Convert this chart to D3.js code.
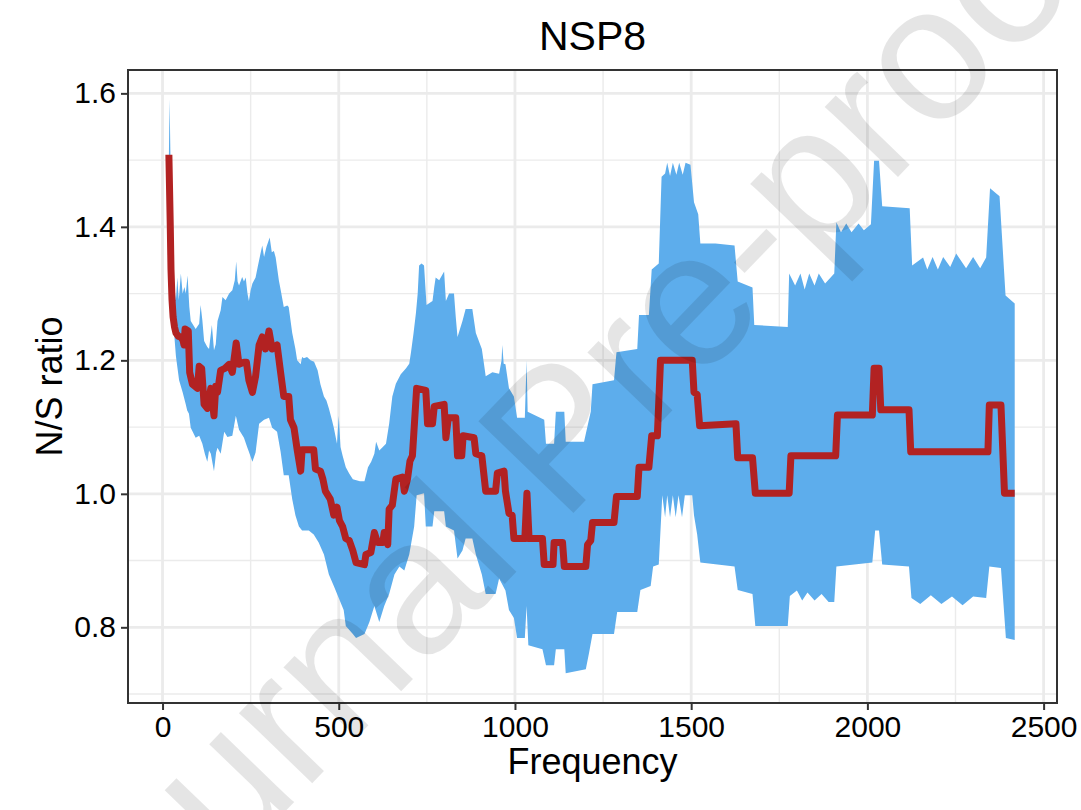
<!DOCTYPE html>
<html>
<head>
<meta charset="utf-8">
<script src="https://cdn.jsdelivr.net/npm/d3@7"></script>
<style>
  html, body { margin: 0; padding: 0; background: #fff; }
  text { font-family: "Liberation Sans", Arial, Helvetica, sans-serif; }
</style>
</head>
<body>
<div id="chart"></div>
<script>
// median N/S ratio (red line), [frequency, ratio]
const medianLine = [
  [18,1.508],[22,1.40],[24,1.336],[27,1.29],[30,1.265],[34,1.25],[38,1.241],[45,1.236],[52,1.235],[58,1.230],
  [61,1.223],[64,1.247],[73,1.244],[77,1.182],[85,1.164],[99,1.158],[104,1.191],[111,1.188],[118,1.134],[127,1.128],
  [137,1.158],[146,1.117],[151,1.161],[156,1.152],[165,1.185],[177,1.188],[189,1.194],[198,1.182],[209,1.226],[217,1.194],
  [231,1.197],[238,1.197],[245,1.170],[255,1.152],[264,1.176],[274,1.223],[283,1.235],[292,1.217],[302,1.244],[311,1.217],
  [325,1.223],[335,1.182],[344,1.146],[358,1.146],[363,1.111],[373,1.099],[382,1.066],[392,1.034],[396,1.066],[429,1.066],
  [434,1.037],[448,1.034],[455,1.022],[462,1.004],[476,0.992],[486,0.968],[495,0.980],[502,0.960],[511,0.951],[520,0.933],
  [530,0.930],[540,0.915],[549,0.897],[573,0.894],[577,0.909],[591,0.912],[601,0.942],[610,0.927],[625,0.927],[629,0.942],
  [639,0.924],[643,0.977],[652,0.983],[662,1.022],[681,1.025],[686,1.004],[695,1.022],[702,1.049],[709,1.057],[714,1.099],
  [721,1.158],[747,1.155],[752,1.105],[766,1.105],[771,1.131],[799,1.134],[804,1.084],[811,1.114],[832,1.114],[837,1.057],
  [849,1.057],[853,1.087],[884,1.084],[889,1.060],[906,1.057],[912,1.028],[917,1.004],[945,1.004],[950,1.031],[969,1.034],
  [973,1.004],[983,0.971],[992,0.968],[997,0.933],[1028,0.933],[1034,1.001],[1040,0.933],[1078,0.933],[1083,0.894],[1108,0.894],
  [1111,0.927],[1135,0.927],[1140,0.891],[1201,0.891],[1206,0.924],[1215,0.930],[1220,0.957],[1281,0.957],[1288,0.996],[1347,0.996],
  [1352,1.040],[1380,1.040],[1388,1.087],[1404,1.087],[1413,1.200],[1503,1.200],[1508,1.152],[1517,1.149],[1524,1.102],[1627,1.105],
  [1632,1.054],[1674,1.054],[1682,1.001],[1778,1.001],[1783,1.057],[1910,1.057],[1915,1.118],[2014,1.118],[2019,1.188],[2033,1.188],
  [2038,1.126],[2118,1.126],[2123,1.063],[2342,1.063],[2346,1.133],[2379,1.133],[2389,1.001],[2418,1.001]
];

// upper edge of the blue band
const upperBand = [
  [18,1.505],[20,1.591],[22,1.52],[26,1.40],[30,1.35],[33,1.31],[38,1.29],[42,1.324],[46,1.29],[52,1.330],
  [57,1.300],[62,1.310],[66,1.300],[71,1.327],[76,1.28],[80,1.259],[94,1.247],[104,1.255],[108,1.283],[113,1.260],
  [118,1.229],[127,1.220],[132,1.217],[140,1.253],[146,1.215],[151,1.224],[156,1.259],[165,1.275],[170,1.295],[179,1.290],
  [189,1.300],[198,1.305],[205,1.320],[209,1.348],[213,1.318],[217,1.312],[226,1.325],[231,1.318],[236,1.324],[241,1.300],
  [245,1.289],[250,1.305],[255,1.315],[264,1.324],[270,1.340],[278,1.360],[283,1.372],[288,1.355],[295,1.370],[304,1.384],
  [310,1.362],[316,1.364],[321,1.354],[330,1.320],[335,1.306],[344,1.280],[354,1.282],[358,1.280],[368,1.241],[377,1.217],
  [382,1.200],[392,1.194],[396,1.205],[401,1.203],[410,1.205],[420,1.200],[430,1.198],[440,1.185],[448,1.164],[458,1.146],
  [465,1.140],[472,1.128],[481,1.110],[486,1.099],[495,1.075],[500,1.117],[505,1.070],[511,1.057],[520,1.040],[530,1.030],
  [540,1.022],[560,1.019],[573,1.019],[583,1.040],[592,1.048],[601,1.060],[606,1.078],[615,1.065],[625,1.070],[634,1.075],
  [643,1.105],[652,1.146],[662,1.165],[676,1.179],[691,1.188],[700,1.195],[705,1.212],[712,1.240],[719,1.271],[724,1.300],
  [728,1.342],[735,1.345],[742,1.342],[749,1.283],[766,1.289],[771,1.310],[775,1.324],[785,1.320],[799,1.333],[804,1.289],
  [813,1.300],[827,1.300],[832,1.265],[837,1.235],[851,1.259],[860,1.277],[879,1.277],[889,1.241],[906,1.217],[912,1.195],
  [917,1.176],[936,1.182],[955,1.180],[962,1.200],[964,1.223],[968,1.195],[973,1.194],[983,1.158],[997,1.146],[1006,1.114],
  [1028,1.114],[1033,1.200],[1036,1.123],[1083,1.111],[1088,1.075],[1111,1.075],[1116,1.123],[1140,1.123],[1144,1.078],[1196,1.078],
  [1215,1.123],[1220,1.164],[1281,1.170],[1288,1.212],[1347,1.217],[1352,1.268],[1380,1.268],[1388,1.336],[1408,1.345],[1416,1.475],
  [1426,1.480],[1432,1.496],[1440,1.476],[1448,1.496],[1458,1.478],[1466,1.496],[1476,1.478],[1484,1.496],[1498,1.493],[1508,1.437],
  [1520,1.419],[1526,1.375],[1569,1.375],[1623,1.372],[1632,1.318],[1674,1.309],[1679,1.253],[1774,1.250],[1778,1.330],[1795,1.312],
  [1810,1.330],[1822,1.306],[1835,1.330],[1850,1.312],[1862,1.330],[1880,1.315],[1906,1.330],[1912,1.407],[1925,1.392],[1940,1.405],
  [1955,1.392],[1975,1.405],[1990,1.395],[2010,1.404],[2019,1.499],[2033,1.499],[2042,1.431],[2120,1.428],[2127,1.342],[2158,1.354],
  [2170,1.336],[2185,1.355],[2200,1.336],[2215,1.355],[2235,1.340],[2252,1.360],[2280,1.338],[2300,1.355],[2320,1.338],[2337,1.354],
  [2348,1.458],[2375,1.446],[2392,1.297],[2418,1.285]
];

// lower edge of the blue band
const lowerBand = [
  [18,1.505],[24,1.36],[28,1.30],[33,1.24],[38,1.206],[42,1.19],[47,1.170],[57,1.152],[66,1.134],[70,1.125],
  [75,1.120],[80,1.099],[94,1.084],[104,1.087],[113,1.075],[120,1.060],[127,1.048],[132,1.065],[137,1.060],[146,1.034],
  [152,1.062],[156,1.069],[165,1.060],[175,1.093],[184,1.085],[198,1.087],[208,1.117],[217,1.096],[231,1.084],[240,1.070],
  [245,1.063],[255,1.048],[264,1.062],[274,1.105],[288,1.111],[302,1.114],[311,1.099],[325,1.093],[335,1.063],[344,1.028],
  [358,1.028],[368,0.992],[377,0.968],[387,0.951],[396,0.945],[415,0.945],[429,0.939],[443,0.927],[458,0.909],[472,0.879],
  [486,0.862],[500,0.844],[514,0.826],[520,0.802],[540,0.790],[549,0.784],[573,0.790],[587,0.808],[601,0.832],[615,0.808],
  [629,0.832],[643,0.850],[658,0.879],[672,0.891],[686,0.885],[700,0.909],[714,0.951],[721,0.998],[742,1.001],[747,0.951],
  [766,0.951],[771,0.974],[799,0.974],[804,0.951],[827,0.945],[837,0.903],[851,0.915],[860,0.933],[879,0.933],[889,0.909],
  [906,0.879],[917,0.850],[945,0.850],[955,0.873],[973,0.855],[983,0.826],[997,0.814],[1006,0.784],[1028,0.784],[1033,0.832],
  [1038,0.773],[1078,0.767],[1088,0.743],[1111,0.743],[1116,0.767],[1140,0.767],[1144,0.731],[1201,0.737],[1210,0.761],[1220,0.790],
  [1281,0.790],[1290,0.823],[1347,0.823],[1356,0.856],[1385,0.862],[1392,0.891],[1408,0.894],[1418,0.998],[1426,0.965],[1432,0.998],
  [1440,0.965],[1448,0.998],[1456,0.965],[1464,0.998],[1474,0.965],[1482,0.998],[1503,0.998],[1508,0.968],[1517,0.939],[1526,0.897],
  [1623,0.891],[1632,0.856],[1674,0.850],[1682,0.802],[1774,0.802],[1780,0.847],[1800,0.855],[1815,0.840],[1830,0.852],[1850,0.840],
  [1870,0.850],[1890,0.838],[1906,0.838],[1912,0.891],[2014,0.897],[2022,0.945],[2033,0.945],[2042,0.894],[2118,0.891],[2125,0.844],
  [2150,0.835],[2180,0.848],[2210,0.835],[2240,0.846],[2270,0.833],[2300,0.846],[2337,0.844],[2346,0.891],[2379,0.889],[2393,0.784],
  [2418,0.781]
];

const xTicks = [0, 500, 1000, 1500, 2000, 2500];
const xMinor = [250, 750, 1250, 1750, 2250];
const yTicks = [0.8, 1.0, 1.2, 1.4, 1.6];
const yMinor = [0.7, 0.9, 1.1, 1.3, 1.5];

const W = 1081, H = 810;
const margin = {left: 128, right: 24, top: 70, bottom: 107};

const svg = d3.select("#chart").append("svg")
    .attr("width", W)
    .attr("height", H);

svg.append("rect").attr("width", W).attr("height", H).attr("fill", "#fff");

// scales (ggplot style 5% padding already in the domain)
const x = d3.scaleLinear().domain([-98, 2538]).range([margin.left, W - margin.right]);
const y = d3.scaleLinear().domain([0.6866, 1.635]).range([H - margin.bottom, margin.top]);

const grid = svg.append("g");
grid.selectAll(".vminor").data(xMinor).join("line")
    .attr("x1", d => x(d)).attr("x2", d => x(d))
    .attr("y1", margin.top).attr("y2", H - margin.bottom)
    .attr("stroke", "#ebebeb").attr("stroke-width", 1.4);
grid.selectAll(".hminor").data(yMinor).join("line")
    .attr("x1", margin.left).attr("x2", W - margin.right)
    .attr("y1", d => y(d)).attr("y2", d => y(d))
    .attr("stroke", "#ebebeb").attr("stroke-width", 1.4);
grid.selectAll(".vmajor").data(xTicks).join("line")
    .attr("x1", d => x(d)).attr("x2", d => x(d))
    .attr("y1", margin.top).attr("y2", H - margin.bottom)
    .attr("stroke", "#ebebeb").attr("stroke-width", 2.8);
grid.selectAll(".hmajor").data(yTicks).join("line")
    .attr("x1", margin.left).attr("x2", W - margin.right)
    .attr("y1", d => y(d)).attr("y2", d => y(d))
    .attr("stroke", "#ebebeb").attr("stroke-width", 2.8);

const line = d3.line().x(d => x(d[0])).y(d => y(d[1]));

// ribbon = upper edge forward then lower edge backward
const ribbon = upperBand.concat(lowerBand.slice().reverse());
svg.append("path")
    .attr("d", line(ribbon) + "Z")
    .attr("fill", "#5dadec");

svg.append("path")
    .datum(medianLine)
    .attr("d", line)
    .attr("fill", "none")
    .attr("stroke", "#b22222")
    .attr("stroke-width", 7)
    .attr("stroke-linejoin", "round");

// panel border
svg.append("rect")
    .attr("x", margin.left).attr("y", margin.top)
    .attr("width", W - margin.left - margin.right)
    .attr("height", H - margin.top - margin.bottom)
    .attr("fill", "none").attr("stroke", "#333").attr("stroke-width", 2);

// axes
const xAxis = svg.append("g")
    .attr("transform", `translate(0,${H - margin.bottom})`)
    .call(d3.axisBottom(x).tickValues(xTicks).tickSize(7).tickPadding(6).tickFormat(d3.format("d")));
const yAxis = svg.append("g")
    .attr("transform", `translate(${margin.left},0)`)
    .call(d3.axisLeft(y).tickValues(yTicks).tickSize(7).tickPadding(5).tickFormat(d3.format(".1f")));

[xAxis, yAxis].forEach(g => {
  g.select(".domain").remove();
  g.selectAll(".tick line").attr("stroke", "#333").attr("stroke-width", 2);
  g.selectAll(".tick text").attr("fill", "#000").style("font-size", "30px")
      .style("font-family", "'Liberation Sans', Arial, sans-serif");
});

// titles
svg.append("text")
    .attr("x", (margin.left + W - margin.right) / 2).attr("y", 50)
    .attr("text-anchor", "middle")
    .style("font-size", "41px")
    .text("NSP8");

svg.append("text")
    .attr("x", (margin.left + W - margin.right) / 2).attr("y", 774)
    .attr("text-anchor", "middle")
    .style("font-size", "36px")
    .text("Frequency");

svg.append("text")
    .attr("transform", `translate(62,${(margin.top + H - margin.bottom) / 2}) rotate(-90)`)
    .attr("text-anchor", "middle")
    .style("font-size", "36px")
    .text("N/S ratio");

// "Journal Pre-proof" watermark
svg.append("text")
    .attr("transform", "translate(566,446) rotate(-46)")
    .attr("text-anchor", "middle")
    .attr("dy", "0.27em")
    .attr("fill", "#000")
    .attr("fill-opacity", 0.1)
    .style("font-size", "192px")
    .text("Journal Pre-proof");
</script>
</body>
</html>
